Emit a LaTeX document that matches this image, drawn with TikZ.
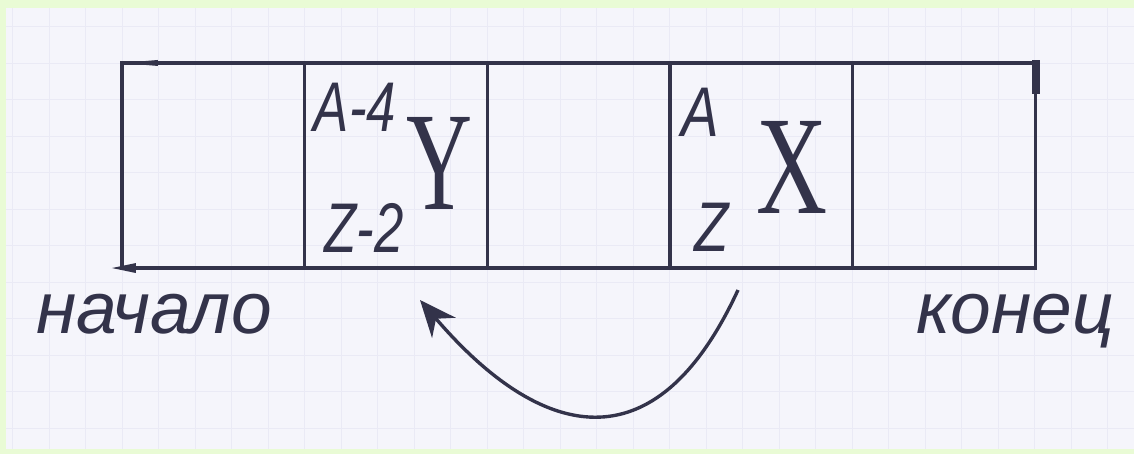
\documentclass[tikz,border=0pt]{standalone}
\usepackage{fontspec}
\setmainfont{Liberation Serif}
\newfontfamily\handfont{Liberation Sans}
\usetikzlibrary{positioning,arrows.meta}
\definecolor{ink}{HTML}{33334A}
\definecolor{paper}{HTML}{F5F5FB}
\definecolor{gridcol}{HTML}{EAEAF5}
\definecolor{frame}{HTML}{E9FBD5}
\newcommand{\squeeze}[2]{\scalebox{#1}[1]{#2}}

\begin{document}
\begin{tikzpicture}[x=0.025cm,y=-0.025cm,
    cellbox/.style={draw=ink,line width=2.4pt,minimum width=4.565cm,minimum height=5.125cm,inner sep=0pt,outer sep=0pt},
    bigletter/.style={text=ink,font=\fontsize{100}{100}\selectfont,inner sep=0pt},
    sublbl/.style={text=ink,font=\handfont\itshape\fontsize{50}{50}\selectfont,inner sep=0pt},
    endlbl/.style={text=ink,font=\handfont\itshape\fontsize{52}{52}\selectfont,inner sep=0pt,anchor=base west},
    gridline/.style={gridcol,line width=0.6pt}]

    % Фон: рамка и лист в клетку
    \useasboundingbox (0,0) rectangle (1134,454);
    \fill[frame] (0,0) rectangle (1134,454);
    \fill[paper] (6,8) rectangle (1134,449);
    \foreach \k in {-3,...,27} \draw[gridline] (122+36.5*\k,8) -- (122+36.5*\k,449);
    \foreach \k in {-1,...,10} \draw[gridline] (6,63+36.5*\k) -- (1134,63+36.5*\k);

    % Ячейки ленты
    \node[cellbox] (cell1) at (213.3,165.5) {};
    \foreach \i/\j in {2/1,3/2,4/3,5/4}
        \node[cellbox,right=0pt of cell\j] (cell\i) {};

    % Метки на углах
    \fill[ink] (cell1.north west) -- ++(36,-3) -- ++(0,6) -- cycle;
    \fill[ink] (cell1.south west) ++(-10,0) -- ++(24,-5) -- ++(0,10) -- cycle;
    \fill[ink] (cell5.north east) ++(-3,-3) rectangle ++(8,34);

    % Ядра
    \node[sublbl] (a4) at (355,107) {\squeeze{0.75}{A-4}};
    \node[bigletter] (y) at (440,163) {\squeeze{0.65}{Y}};
    \node[sublbl] (z2) at (364,228) {\squeeze{0.75}{Z-2}};
    \node[sublbl] (a) at (700,112) {\squeeze{0.8}{A}};
    \node[sublbl] (z) at (712,227) {\squeeze{0.8}{Z}};
    \node[bigletter] (x) at (792,167) {\squeeze{0.7}{X}};

    % Подписи
    \node[endlbl] (nachalo) at (36,333) {начало};
    \node[endlbl] (konec) at (916,333) {конец};

    % Сдвиг
    \coordinate (src) at (738,290);
    \coordinate (dst) at (420,300);
    \draw[ink,line width=2.4pt,-{Stealth[length=26pt,width=22pt]}] (src) .. controls (655,470) and (540,440) .. (dst);

\end{tikzpicture}
\end{document}
